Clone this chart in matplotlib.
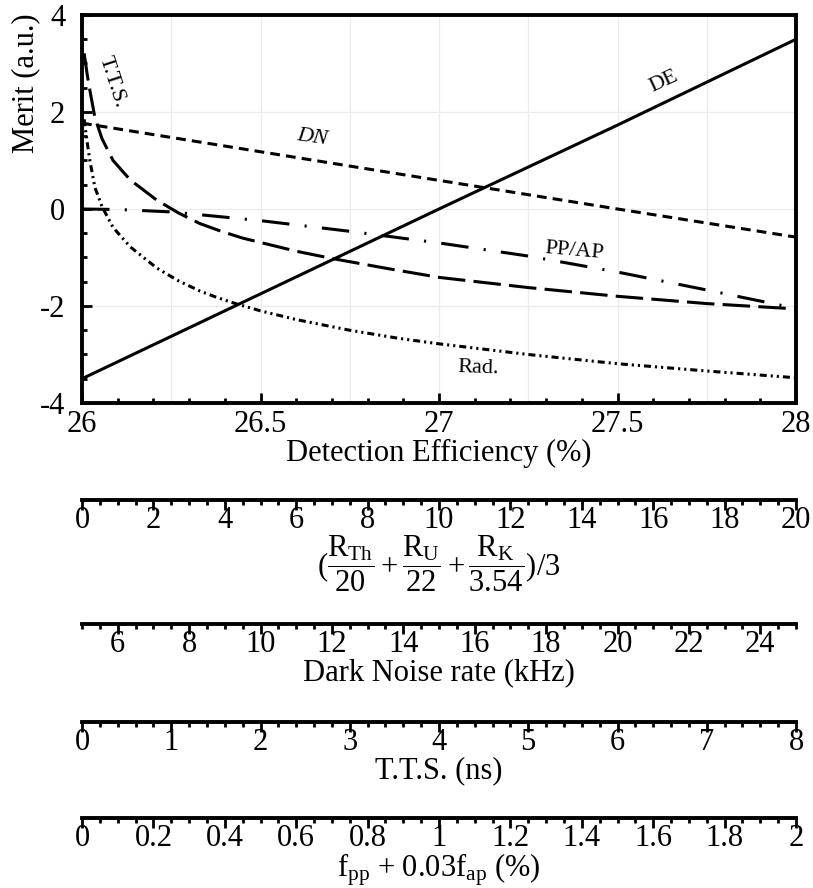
import matplotlib
matplotlib.use('Agg')
import matplotlib.pyplot as plt
from matplotlib.ticker import MultipleLocator, FuncFormatter

plt.rcParams['font.family'] = ['Liberation Serif', 'DejaVu Serif']
plt.rcParams['mathtext.fontset'] = 'custom'
plt.rcParams['mathtext.rm'] = 'Liberation Serif'
plt.rcParams['mathtext.it'] = 'Liberation Serif:italic'
plt.rcParams['axes.unicode_minus'] = False

# curves (x = detection efficiency %, y = merit)
de_x = [26.0, 26.5, 27.0, 27.5, 28.0]
de_y = [-3.5, -1.75, 0.0, 1.73, 3.5]

dn_x = [26.0, 26.39, 27.0, 27.5, 28.0]
dn_y = [1.77, 1.31, 0.59, 0.0, -0.58]

tts_x = [26.006, 26.015, 26.022, 26.036, 26.056, 26.087, 26.135, 26.21, 26.27, 26.33,
         26.39, 26.45, 26.5, 26.6, 26.7, 26.85, 27.0, 27.25, 27.5, 27.75, 28.0]
tts_y = [3.21, 2.75, 2.45, 1.89, 1.45, 1.0, 0.6, 0.18, -0.08, -0.3,
         -0.46, -0.6, -0.69, -0.87, -1.02, -1.22, -1.41, -1.62, -1.80, -1.95, -2.06]

pp_x = [26.0, 26.1, 26.25, 26.5, 26.75, 27.0, 27.25, 27.5, 27.75, 28.0]
pp_y = [0.0, -0.01, -0.06, -0.24, -0.46, -0.70, -0.97, -1.30, -1.67, -2.05]

rad_x = [26.006, 26.015, 26.022, 26.036, 26.056, 26.087, 26.135, 26.21, 26.27, 26.33,
         26.38, 26.43, 26.5, 26.6, 26.75, 26.89, 27.0, 27.25, 27.5, 27.75, 28.0]
rad_y = [1.85, 1.35, 1.0, 0.45, 0.05, -0.38, -0.78, -1.22, -1.48, -1.69,
         -1.83, -1.95, -2.1, -2.28, -2.5, -2.67, -2.78, -3.0, -3.19, -3.34, -3.48]

# extra scales below the plot: (min, max), (major, minor step), title
scale_lims = [(0, 20), (5, 25), (0, 8), (0, 2)]
scale_steps = [(2, 0.5), (2, 0.5), (1, 0.2), (0.2, 0.05)]
scale_titles = [r'$(\dfrac{\mathrm{R}_{\mathrm{Th}}}{20}+\dfrac{\mathrm{R}_{\mathrm{U}}}{22}+\dfrac{\mathrm{R}_{\mathrm{K}}}{3.54})/3$',
                'Dark Noise rate (kHz)',
                'T.T.S. (ns)',
                r'f$_{\mathrm{pp}}$ + 0.03f$_{\mathrm{ap}}$ (%)']
scale_ypix = [500, 624, 722, 818]

W, H = 813, 888
fs = 22
gfmt = FuncFormatter(lambda v, p: '%g' % round(v, 6))

fig = plt.figure(figsize=(W / 100, H / 100), dpi=100)
ax = fig.add_axes([82 / W, 1 - 403 / H, 714 / W, 388 / H])

# grid: every 0.25 in x, every 2 in y
for gx in [26.25, 26.5, 26.75, 27.0, 27.25, 27.5, 27.75]:
    ax.axvline(gx, color='#ebebeb', lw=0.9, zorder=0)
for gy in [-2, 0, 2]:
    ax.axhline(gy, color='#ebebeb', lw=0.9, zorder=0)

lw = 2.2
ax.plot(de_x, de_y, color='k', lw=lw)
ax.plot(dn_x, dn_y, color='k', lw=lw, dashes=(3.2, 2.0))
ax.plot(tts_x, tts_y, color='k', lw=lw, dashes=(9, 2.7))
ax.plot(pp_x, pp_y, color='k', lw=lw, dashes=(9, 5, 0.7, 5))
ax.plot(rad_x, rad_y, color='k', lw=lw, dashes=(2.3, 1.3, 0.7, 1.3, 0.7, 1.3))

ax.text(27.63, 2.62, 'DE', fontsize=16, rotation=25, ha='center', va='center', rotation_mode='anchor')
ax.text(26.645, 1.48, 'DN', fontsize=16, style='italic', rotation=-8, ha='center', va='center', rotation_mode='anchor')
ax.text(27.38, -0.86, 'PP/AP', fontsize=16, rotation=-5, ha='center', va='center', rotation_mode='anchor')
ax.text(27.11, -3.29, 'Rad.', fontsize=16, rotation=-2, ha='center', va='center', rotation_mode='anchor')
ax.text(26.084, 2.62, 'T.T.S.', fontsize=16, rotation=-72, ha='center', va='center', rotation_mode='anchor')

ax.set_xlim(26, 28)
ax.set_ylim(-4, 4)
ax.xaxis.set_major_locator(MultipleLocator(0.5))
ax.xaxis.set_minor_locator(MultipleLocator(0.1))
ax.yaxis.set_major_locator(MultipleLocator(2))
ax.yaxis.set_minor_locator(MultipleLocator(0.5))
ax.xaxis.set_major_formatter(gfmt)
ax.yaxis.set_major_formatter(gfmt)
ax.tick_params(which='both', direction='in', top=False, right=False, width=2.0)
ax.tick_params(which='major', length=7.5, labelsize=fs)
ax.tick_params(which='minor', length=3.8)
ax.tick_params(axis='x', which='major', pad=5)
ax.tick_params(axis='y', which='major', pad=12)
for s in ax.spines.values():
    s.set_linewidth(2.8)
ax.set_xlabel('Detection Efficiency (%)', fontsize=fs, labelpad=0)
ax.set_ylabel('Merit (a.u.)', fontsize=fs)
ax.yaxis.set_label_coords(-0.059, 0.825)

# stacked secondary scales
for (lo, hi), (mj, mn), title, yp in zip(scale_lims, scale_steps, scale_titles, scale_ypix):
    a = fig.add_axes([82 / W, 1 - yp / H, 714 / W, 0.0001])
    a.set_facecolor('none')
    for side in ['top', 'left', 'right']:
        a.spines[side].set_visible(False)
    a.spines['bottom'].set_linewidth(2.8)
    a.set_xlim(lo, hi)
    a.set_yticks([])
    a.xaxis.set_major_locator(MultipleLocator(mj))
    a.xaxis.set_minor_locator(MultipleLocator(mn))
    a.xaxis.set_major_formatter(gfmt)
    a.tick_params(which='both', direction='out', width=2.0)
    a.tick_params(which='major', length=7.5, labelsize=fs, pad=-3)
    a.tick_params(which='minor', length=3.8)
    a.set_xlabel(title, fontsize=fs, labelpad=-1)

fig.savefig('out.png', dpi=100)
